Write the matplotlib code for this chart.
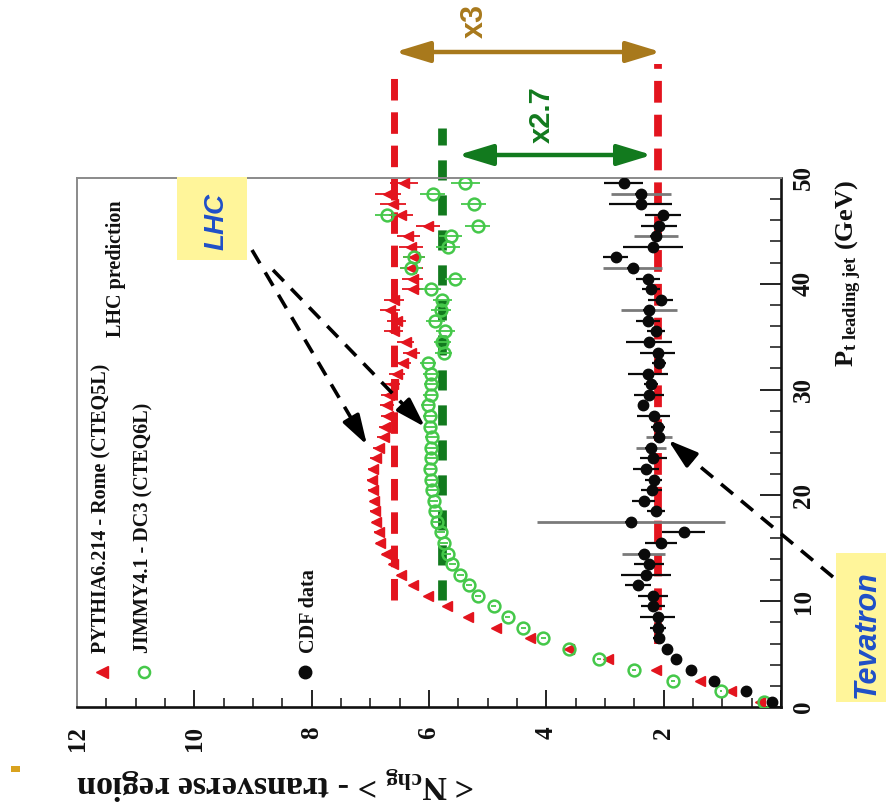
import matplotlib
matplotlib.use('Agg')
import matplotlib.pyplot as plt
import numpy as np
from matplotlib.patches import Rectangle, FancyArrowPatch
from matplotlib.lines import Line2D
from matplotlib.ticker import MultipleLocator, FuncFormatter

plt.rcParams['mathtext.fontset'] = 'custom'
plt.rcParams['mathtext.rm'] = 'Liberation Serif:bold'
plt.rcParams['mathtext.it'] = 'Liberation Serif:italic:bold'
plt.rcParams['mathtext.bf'] = 'Liberation Serif:bold'

# ---------------- data ----------------
pt_bins = [0.5, 1.5, 2.5, 3.5, 4.5, 5.5, 6.5, 7.5, 8.5, 9.5,
           10.5, 11.5, 12.5, 13.5, 14.5, 15.5, 16.5, 17.5, 18.5, 19.5,
           20.5, 21.5, 22.5, 23.5, 24.5, 25.5, 26.5, 27.5, 28.5, 29.5,
           30.5, 31.5, 32.5, 33.5, 34.5, 35.5, 36.5, 37.5, 38.5, 39.5,
           40.5, 41.5, 42.5, 43.5, 44.5, 45.5, 46.5, 47.5, 48.5, 49.5]

pythia = [0.35, 0.85, 1.38, 2.13, 2.95, 3.62, 4.27, 4.86, 5.34, 5.70,
          6.02, 6.28, 6.48, 6.62, 6.74, 6.83, 6.86, 6.90, 6.92, 6.93,
          6.96, 6.97, 6.95, 6.90, 6.85, 6.77, 6.75, 6.70, 6.72, 6.69,
          6.62, 6.55, 6.45, 6.30, 6.40, 6.60, 6.55, 6.66, 6.60, 6.28,
          6.28, 6.30, 6.26, 6.31, 6.35, 6.02, 6.48, 6.62, 6.70, 6.43]
pythia_err = [0.02, 0.02, 0.03, 0.03, 0.03, 0.03, 0.04, 0.04, 0.04, 0.05,
              0.05, 0.05, 0.06, 0.06, 0.06, 0.07, 0.07, 0.07, 0.08, 0.08,
              0.08, 0.09, 0.09, 0.10, 0.10, 0.11, 0.11, 0.12, 0.12, 0.13,
              0.13, 0.14, 0.14, 0.15, 0.15, 0.16, 0.16, 0.17, 0.17, 0.18,
              0.18, 0.19, 0.19, 0.20, 0.20, 0.21, 0.21, 0.22, 0.22, 0.24]

jimmy = [0.29, 1.02, 1.84, 2.51, 3.10, 3.62, 4.05, 4.39, 4.66, 4.90,
         5.17, 5.32, 5.47, 5.60, 5.68, 5.75, 5.80, 5.87, 5.90, 5.92,
         5.95, 5.97, 5.98, 5.96, 5.97, 5.95, 5.98, 5.99, 6.02, 5.97,
         5.96, 5.97, 6.02, 5.75, 5.77, 5.72, 5.89, 5.80, 5.77, 5.97,
         5.55, 6.31, 6.26, 5.68, 5.63, 5.17, 6.71, 5.24, 5.94, 5.38]
jimmy_err = [0.02, 0.02, 0.03, 0.03, 0.03, 0.03, 0.04, 0.04, 0.04, 0.05,
             0.05, 0.05, 0.06, 0.06, 0.06, 0.07, 0.07, 0.07, 0.08, 0.08,
             0.08, 0.09, 0.09, 0.10, 0.10, 0.11, 0.11, 0.12, 0.12, 0.13,
             0.13, 0.14, 0.14, 0.15, 0.15, 0.16, 0.16, 0.17, 0.17, 0.18,
             0.18, 0.19, 0.19, 0.20, 0.20, 0.21, 0.21, 0.22, 0.22, 0.25]

cdf = [0.15, 0.60, 1.14, 1.54, 1.79, 1.95, 2.08, 2.10, 2.10, 2.18,
       2.18, 2.44, 2.30, 2.25, 2.34, 2.05, 1.66, 2.56, 2.13, 2.34,
       2.20, 2.17, 2.30, 2.18, 2.22, 2.08, 2.10, 2.17, 2.35, 2.25,
       2.22, 2.27, 2.08, 2.10, 2.25, 2.13, 2.27, 2.25, 2.05, 2.22,
       2.27, 2.53, 2.82, 2.18, 2.13, 2.08, 2.01, 2.39, 2.39, 2.68]
cdf_err = [0.02, 0.03, 0.04, 0.05, 0.06, 0.07, 0.10, 0.14, 0.30, 0.20,
           0.25, 0.22, 0.43, 0.25, 0.10, 0.27, 0.36, 0.10, 0.15, 0.20,
           0.18, 0.15, 0.22, 0.23, 0.10, 0.10, 0.12, 0.28, 0.05, 0.26,
           0.12, 0.34, 0.12, 0.30, 0.40, 0.15, 0.20, 0.10, 0.21, 0.15,
           0.20, 0.10, 0.21, 0.51, 0.10, 0.30, 0.31, 0.54, 0.10, 0.33]
cdf_err_tot = [0.0, 0.0, 0.0, 0.0, 0.0, 0.0, 0.0, 0.0, 0.0, 0.0,
               0.0, 0.0, 0.0, 0.0, 0.37, 0.0, 0.0, 1.60, 0.0, 0.0,
               0.0, 0.0, 0.0, 0.0, 0.26, 0.22, 0.0, 0.0, 0.0, 0.0,
               0.0, 0.0, 0.0, 0.0, 0.0, 0.0, 0.0, 0.48, 0.0, 0.0,
               0.0, 0.50, 0.0, 0.0, 0.37, 0.0, 0.0, 0.0, 0.51, 0.0]

lhc_pythia_level = 6.6
lhc_jimmy_level = 5.78
tev_level = 2.1
ratio_labels = ['x3', 'x2.7']

legend_labels = ['PYTHIA6.214 - Rome (CTEQ5L)', 'JIMMY4.1 - DC3 (CTEQ6L)', 'CDF data']

# ---------------- figure ----------------
W, H = 886, 810
fig = plt.figure(figsize=(W / 100, H / 100), dpi=100)
fig.patch.set_facecolor('white')


def fx(x):
    return x / W


def fy(y):
    return 1 - y / H


ax = fig.add_axes([fx(77), fy(707), fx(781) - fx(77), fy(178) - fy(707)])
ax.set_xlim(12, 0)
ax.set_ylim(0, 50)

RED = '#E3141E'
GREEN_DARK = '#127A1E'
GREEN_LIGHT = '#45C84A'
BROWN = '#A8791C'
BLUE = '#1F4FC8'
YELLOW = '#FFF59A'

serif = 'Liberation Serif'
sans = 'Liberation Sans'

# spines
for s in ['top', 'left']:
    ax.spines[s].set_color('#8a8a8a')
    ax.spines[s].set_linewidth(1.4)
for s in ['bottom', 'right']:
    ax.spines[s].set_color('#111111')
    ax.spines[s].set_linewidth(1.9)

ax.xaxis.set_major_locator(MultipleLocator(2))
ax.xaxis.set_minor_locator(MultipleLocator(0.5))
ax.xaxis.set_major_formatter(FuncFormatter(lambda v, p: '' if abs(v) < 1e-6 else '%d' % v))
ax.yaxis.set_major_locator(MultipleLocator(10))
ax.yaxis.set_minor_locator(MultipleLocator(2))
ax.yaxis.tick_right()
ax.tick_params(axis='x', which='major', direction='in', length=12, width=1.3,
               labelrotation=90, pad=14, labelsize=18, colors='#111111')
ax.tick_params(axis='x', which='minor', direction='in', length=6.5, width=1.1, colors='#111111')
ax.tick_params(axis='y', which='major', direction='in', length=15, width=1.3,
               labelrotation=90, pad=8, labelsize=18, colors='#111111',
               right=True, left=False, labelright=True, labelleft=False)
ax.tick_params(axis='y', which='minor', direction='in', length=8, width=1.1,
               right=True, left=False, colors='#111111')
for lab in ax.get_xticklabels() + ax.get_yticklabels():
    lab.set_fontfamily(serif)
    lab.set_fontweight('bold')
for lab in ax.get_yticklabels():
    lab.set_verticalalignment('center')
    lab.set_horizontalalignment('left')

# dashed level lines (extend above the frame)
ax.plot([lhc_pythia_level, lhc_pythia_level], [10.1, 60.3], color=RED, lw=5.0,
        dashes=(3.1, 1.7), clip_on=False, zorder=2, solid_capstyle='butt')
ax.plot([lhc_jimmy_level, lhc_jimmy_level], [10.1, 54.7], color=GREEN_DARK, lw=6.3,
        dashes=(2.3, 1.7), clip_on=False, zorder=2)
ax.plot([tev_level, tev_level], [6.0, 60.8], color=RED, lw=5.6,
        dashes=(2.8, 1.55), clip_on=False, zorder=2)

# data
ax.errorbar(pythia, pt_bins, xerr=pythia_err, fmt='<', color=RED, ms=7.5,
            elinewidth=1.3, capsize=0, zorder=4)
ax.errorbar(jimmy, pt_bins, xerr=jimmy_err, fmt='o', mfc='none', mec=GREEN_LIGHT,
            mew=1.8, ms=8.5, ecolor=GREEN_LIGHT, elinewidth=1.3, capsize=0, zorder=4)
ax.errorbar(cdf, pt_bins, xerr=cdf_err_tot, fmt='none', ecolor='#7a7a7a',
            elinewidth=2.0, capsize=0, zorder=5)
ax.errorbar(cdf, pt_bins, xerr=cdf_err, fmt='o', color='#0a0a0a', ms=7.5,
            elinewidth=1.6, capsize=0, zorder=6)

# legend (rotated, drawn manually)
fig.add_artist(Line2D([fx(102)], [fy(672)], transform=fig.transFigure, marker='<',
                      color=RED, ms=9, ls='none'))
fig.add_artist(Line2D([fx(144)], [fy(672)], transform=fig.transFigure, marker='o',
                      mfc='none', mec=GREEN_LIGHT, mew=1.8, ms=8, ls='none'))
fig.add_artist(Line2D([fx(305)], [fy(672)], transform=fig.transFigure, marker='o',
                      color='#0a0a0a', ms=9, ls='none'))
for lab, x in zip(legend_labels, [101, 143, 309]):
    fig.text(fx(x), fy(653), lab, rotation=90, ha='center', va='bottom',
             fontsize=14.5, fontfamily=serif, fontweight='bold', color='#111111')
fig.text(fx(116), fy(337), 'LHC prediction', rotation=90, ha='center', va='bottom',
         fontsize=14.5, fontfamily=serif, fontweight='bold', color='#111111')

# axis titles
fig.text(fx(76), fy(783), r'< N$_{\mathrm{chg}}$ > - transverse region', rotation=180,
         ha='left', va='center', fontsize=24.5, fontfamily=serif, fontweight='bold',
         color='#111111')
fig.text(fx(849), fy(180), r'P$_{\mathrm{t\ leading\ jet}}$ (GeV)', rotation=90,
         ha='center', va='top', fontsize=19, fontfamily=serif, fontweight='bold',
         color='#111111')

# ratio arrows
for (x0, x1, y, col) in [(395, 661, 52, BROWN), (458, 652, 155, GREEN_DARK)]:
    fig.add_artist(FancyArrowPatch(
        (fx(x0), fy(y)), (fx(x1), fy(y)), transform=fig.transFigure,
        arrowstyle='<|-|>,head_length=1.05,head_width=0.32', mutation_scale=20,
        color=col, lw=3.2, shrinkA=0, shrinkB=0))
fig.text(fx(475), fy(21), ratio_labels[0], rotation=90, ha='center', va='center',
         fontsize=22, fontfamily=sans, fontweight='bold', color=BROWN)
fig.text(fx(542), fy(115), ratio_labels[1], rotation=90, ha='center', va='center',
         fontsize=21, fontfamily=sans, fontweight='bold', color=GREEN_DARK)

# LHC / Tevatron boxes
fig.add_artist(Rectangle((fx(177), fy(260)), fx(247) - fx(177), fy(177) - fy(260),
                         transform=fig.transFigure, facecolor=YELLOW, edgecolor='none'))
fig.text(fx(217), fy(222), 'LHC', rotation=90, ha='center', va='center', fontsize=20,
         fontfamily=sans, fontweight='bold', fontstyle='italic', color=BLUE)
fig.add_artist(Rectangle((fx(836), fy(702)), fx(886) - fx(836), fy(553) - fy(702),
                         transform=fig.transFigure, facecolor=YELLOW, edgecolor='none'))
fig.text(fx(867), fy(634), 'Tevatron', rotation=90, ha='center', va='center', fontsize=22,
         fontfamily=sans, fontweight='bold', fontstyle='italic', color=BLUE)


# black dashed pointer arrows: dashed shaft + solid head
def dashed_arrow(p0, p1, head_px=24):
    x0, y0 = p0
    x1, y1 = p1
    d = np.hypot(x1 - x0, y1 - y0)
    ux, uy = (x1 - x0) / d, (y1 - y0) / d
    xb, yb = x1 - ux * head_px, y1 - uy * head_px
    fig.add_artist(Line2D([fx(x0), fx(xb)], [fy(y0), fy(yb)], transform=fig.transFigure,
                          color='black', lw=2.6, dashes=(4.3, 2.9)))
    fig.add_artist(FancyArrowPatch(
        (fx(xb - ux * 4), fy(yb - uy * 4)), (fx(x1), fy(y1)), transform=fig.transFigure,
        arrowstyle='-|>,head_length=0.9,head_width=0.28', mutation_scale=20,
        color='black', lw=2.6, shrinkA=0, shrinkB=0))


dashed_arrow((252, 250), (367, 445))
dashed_arrow((273, 270), (425, 427))
dashed_arrow((833, 577), (668, 440))

# slide remnant mark at the left edge
fig.add_artist(Rectangle((fx(11), fy(772)), fx(20) - fx(11), fy(766) - fy(772),
                         transform=fig.transFigure, facecolor='#D9A21E', edgecolor='none'))

fig.savefig('out.png', dpi=100, facecolor='white')
